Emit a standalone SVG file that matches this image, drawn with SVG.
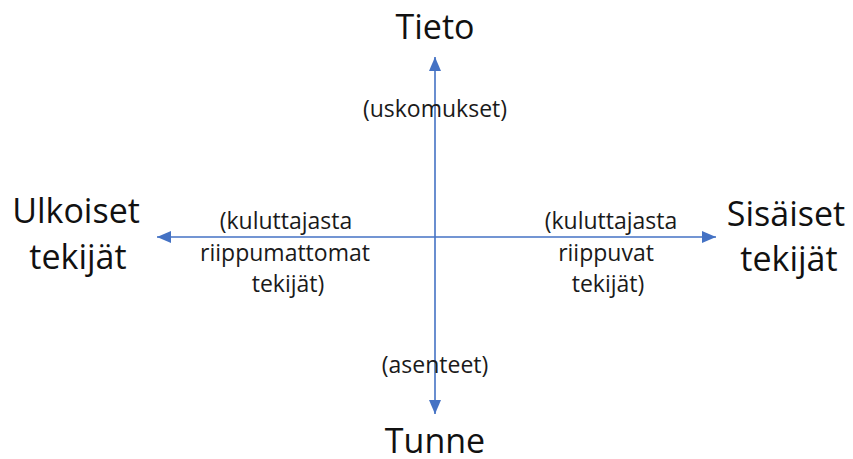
<svg xmlns="http://www.w3.org/2000/svg" width="853" height="459" viewBox="0 0 853 459">
  <style>
    .big { font-family: "Open Sans", "Liberation Sans", sans-serif; font-size: 34px; fill: #111; text-anchor: middle; }
    .small { font-family: "Open Sans", "Liberation Sans", sans-serif; font-size: 23px; fill: #1a1a1a; text-anchor: middle; }
    .axis { stroke: #4472C4; stroke-width: 1.6; fill: none; }
  </style>
  <defs>
    <marker id="arrow" viewBox="0 0 10 10" refX="10" refY="5" markerWidth="14" markerHeight="12" markerUnits="userSpaceOnUse" orient="auto" preserveAspectRatio="none">
      <path d="M0,0 L10,5 L0,10 Z" fill="#4472C4"/>
    </marker>
  </defs>
  <rect width="853" height="459" fill="#fff"/>

  <g id="connectors">
    <line class="axis" x1="435" y1="237" x2="435" y2="57" marker-end="url(#arrow)"/>
    <line class="axis" x1="435" y1="237" x2="435" y2="414" marker-end="url(#arrow)"/>
    <line class="axis" x1="435" y1="237" x2="157" y2="237" marker-end="url(#arrow)"/>
    <line class="axis" x1="435" y1="237" x2="716" y2="237" marker-end="url(#arrow)"/>
  </g>

  <g id="tieto">
    <text class="big" x="435" y="39">Tieto</text>
  </g>
  <g id="uskomukset">
    <text class="small" x="435" y="117">(uskomukset)</text>
  </g>
  <g id="tunne">
    <text class="big" x="435" y="453">Tunne</text>
  </g>
  <g id="asenteet">
    <text class="small" x="435" y="373">(asenteet)</text>
  </g>
  <g id="ulkoiset">
    <text class="big" x="76" y="223">Ulkoiset</text>
    <text class="big" x="78" y="269">tekijät</text>
  </g>
  <g id="sisaiset">
    <text class="big" x="786" y="226">Sisäiset</text>
    <text class="big" x="789" y="271">tekijät</text>
  </g>
  <g id="riippumattomat">
    <text class="small" x="286" y="229">(kuluttajasta</text>
    <text class="small" x="285" y="261">riippumattomat</text>
    <text class="small" x="288" y="292">tekijät)</text>
  </g>
  <g id="riippuvat">
    <text class="small" x="611" y="229">(kuluttajasta</text>
    <text class="small" x="606" y="261">riippuvat</text>
    <text class="small" x="608" y="292">tekijät)</text>
  </g>
</svg>
